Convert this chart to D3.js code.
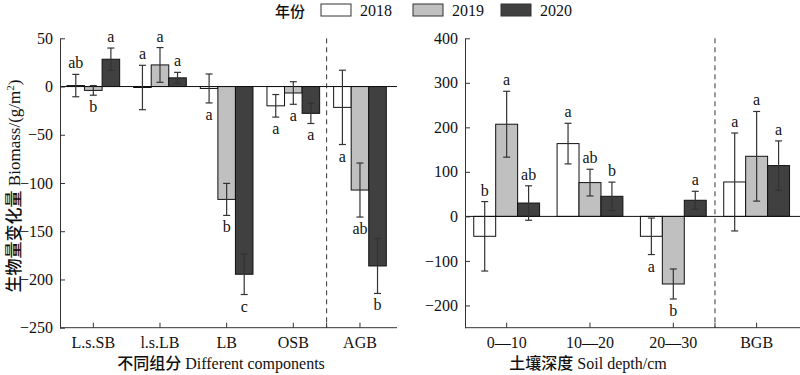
<!DOCTYPE html>
<html><head><meta charset="utf-8">
<script src="https://cdn.jsdelivr.net/npm/d3@7"></script>
<style>
body{margin:0;background:#fff;}
svg{display:block;}
</style></head>
<body><svg id="c" width="800" height="375"></svg>
<script>
// ---- data ----
const years = ["2018","2019","2020"];
const yearColors = ["#ffffff","#c0c0c0","#404040"];

const categoriesL = ["L.s.SB","l.s.LB","LB","OSB","AGB"];
const meanL2018 = [1, -1, -2, -20, -21.6];
const errL2018  = [11.6, 23, 15, 11.7, 38.5];
const meanL2019 = [-4, 22.4, -117, -6.7, -107.3];
const errL2019  = [5, 18, 16.6, 11.7, 28];
const meanL2020 = [28.3, 9, -194.6, -27.8, -186];
const errL2020  = [11.6, 5.7, 21, 10.5, 28.5];
const lettersL2018 = ["ab","a","a","a","a"];
const lettersL2019 = ["b","a","b","a","ab"];
const lettersL2020 = ["a","a","c","a","b"];
const sideL2018 = ["up","up","down","down","down"];
const sideL2019 = ["down","up","down","down","down"];
const sideL2020 = ["up","up","down","down","down"];
const ticksL = [50, 0, -50, -100, -150, -200, -250];

const categoriesR = ["0\u201410","10\u201420","20\u201430","BGB"];
const meanR2018 = [-44.7, 163.5, -44.7, 77.3];
const errR2018  = [78, 45.6, 41, 110];
const meanR2019 = [207, 75.9, -151.8, 135];
const errR2019  = [74, 30, 33.7, 100.7];
const meanR2020 = [30, 45.1, 36.2, 114.1];
const errR2020  = [38.7, 31.8, 20.2, 55.4];
const lettersR2018 = ["b","a","a","a"];
const lettersR2019 = ["a","ab","b","a"];
const lettersR2020 = ["ab","b","a","a"];
const sideR2018 = ["up","up","down","up"];
const sideR2019 = ["up","up","down","up"];
const sideR2020 = ["up","up","up","up"];
const ticksR = [400, 300, 200, 100, 0, -100, -200];

const SERIF = "'Liberation Serif', 'Noto Sans CJK SC', serif";
const CJK = "'Noto Sans CJK SC', sans-serif";
const svg = d3.select("#c").attr("font-family", SERIF);
const FS = 16;

function panel(opt){
  const g = svg.append("g");
  const x = d3.scaleBand().domain(opt.cats).range([opt.x0, opt.x1]).padding(0);
  const y = d3.scaleLinear().domain(opt.ydom).range([327.7, 38.3]);
  const bw = x.bandwidth();
  const xs = d3.scaleBand().domain(years).range([-bw*0.395, bw*0.395]).padding(0);
  const series = [
    {year:"2018", mean:opt.m[0], err:opt.e[0], let:opt.l[0], side:opt.s[0]},
    {year:"2019", mean:opt.m[1], err:opt.e[1], let:opt.l[1], side:opt.s[1]},
    {year:"2020", mean:opt.m[2], err:opt.e[2], let:opt.l[2], side:opt.s[2]}
  ];
  const recs = [];
  series.forEach((s,si)=>{
    opt.cats.forEach((c,i)=>{
      recs.push({cat:c, year:s.year, color:yearColors[si], v:s.mean[i], e:s.err[i], t:s.let[i], side:s.side[i]});
    });
  });
  g.selectAll("rect.bar").data(recs).join("rect")
    .attr("x", d=> x(d.cat)+bw/2+xs(d.year))
    .attr("width", xs.bandwidth())
    .attr("y", d=> y(Math.max(0,d.v)))
    .attr("height", d=> Math.abs(y(d.v)-y(0)))
    .attr("fill", d=>d.color).attr("stroke","#111").attr("stroke-width",1);
  g.append("line").attr("x1",opt.x0).attr("x2",opt.xEnd).attr("y1",y(0)).attr("y2",y(0))
    .attr("stroke","#111").attr("stroke-width",1);
  const cx = d=> x(d.cat)+bw/2+xs(d.year)+xs.bandwidth()/2;
  const eg = g.selectAll("g.err").data(recs).join("g").attr("stroke","#333").attr("stroke-width",1.2);
  eg.append("line").attr("x1",cx).attr("x2",cx).attr("y1",d=>y(d.v+d.e)).attr("y2",d=>y(d.v-d.e));
  eg.append("line").attr("x1",d=>cx(d)-3.5).attr("x2",d=>cx(d)+3.5).attr("y1",d=>y(d.v+d.e)).attr("y2",d=>y(d.v+d.e));
  eg.append("line").attr("x1",d=>cx(d)-3.5).attr("x2",d=>cx(d)+3.5).attr("y1",d=>y(d.v-d.e)).attr("y2",d=>y(d.v-d.e));
  g.selectAll("text.let").data(recs).join("text")
    .attr("x",cx).attr("text-anchor","middle").attr("font-size",FS).attr("fill","#111")
    .attr("font-family",SERIF)
    .attr("y", d=> d.side==="up" ? y(d.v+d.e)-6 : y(d.v-d.e)+17)
    .text(d=>d.t);
  const sepX = x(opt.cats[opt.cats.length-1]);
  g.append("line").attr("x1",sepX).attr("x2",sepX).attr("y1",38.3).attr("y2",327.7)
    .attr("stroke","#333").attr("stroke-width",1).attr("stroke-dasharray","5,4");
  const ya = d3.axisLeft(y).tickValues(opt.ticks).tickSizeInner(-5).tickSizeOuter(0).tickPadding(7);
  const yg = g.append("g").attr("transform",`translate(${opt.x0},0)`).call(ya)
    .attr("font-family",SERIF).attr("font-size",FS);
  yg.selectAll("text").attr("fill","#111");
  yg.selectAll("line,path").attr("stroke","#333");
  const xa = d3.axisBottom(x).tickSizeInner(-5).tickSizeOuter(0).tickPadding(9);
  const xg = g.append("g").attr("transform",`translate(0,327.7)`).call(xa)
    .attr("font-family",SERIF).attr("font-size",FS);
  xg.select("path.domain").remove();
  xg.append("line").attr("x1",opt.x0).attr("x2",opt.xEnd).attr("stroke","#333");
  xg.append("line").attr("x1",sepX).attr("x2",sepX).attr("y1",0).attr("y2",-5).attr("stroke","#333");
  xg.selectAll("text").attr("fill","#111");
  xg.selectAll(".tick line").attr("stroke","#333");
  const t = g.append("text").attr("x",opt.titleX).attr("y",369).attr("text-anchor","middle")
    .attr("font-size",FS).attr("fill","#111").attr("font-family",SERIF);
  t.append("tspan").attr("font-family",CJK).attr("font-weight",500).text(opt.titleCN);
  t.append("tspan").attr("font-family",SERIF).text(" "+opt.titleEN);
}

panel({cats:categoriesL, x0:60, x1:393.3, xEnd:397, ydom:[-250,50], ticks:ticksL,
  m:[meanL2018,meanL2019,meanL2020], e:[errL2018,errL2019,errL2020],
  l:[lettersL2018,lettersL2019,lettersL2020], s:[sideL2018,sideL2019,sideL2020],
  titleX:221, titleCN:"不同组分", titleEN:"Different components"});
panel({cats:categoriesR, x0:465, x1:798.3, xEnd:800, ydom:[-250,400], ticks:ticksR,
  m:[meanR2018,meanR2019,meanR2020], e:[errR2018,errR2019,errR2020],
  l:[lettersR2018,lettersR2019,lettersR2020], s:[sideR2018,sideR2019,sideR2020],
  titleX:588, titleCN:"土壤深度", titleEN:"Soil depth/cm"});

// y title
const yt = svg.append("text").attr("transform","translate(20,186) rotate(-90)")
  .attr("text-anchor","middle").attr("font-size",17).attr("fill","#111").attr("font-family",SERIF);
yt.append("tspan").attr("font-family",CJK).attr("font-weight",500).attr("font-size",17).text("生物量变化量");
yt.append("tspan").attr("font-family",SERIF).text(" Biomass/(g/m");
yt.append("tspan").attr("font-family",SERIF).attr("font-size",11).attr("dy",-6).text("2");
yt.append("tspan").attr("font-family",SERIF).attr("dy",6).text(")");

// legend
const lg = svg.append("g");
lg.append("text").attr("x",275).attr("y",17).attr("font-size",15).attr("font-family",CJK)
  .attr("font-weight",500).attr("fill","#111").text("年份");
const legX = [321, 413, 501];
years.forEach((yr,i)=>{
  lg.append("rect").attr("x",legX[i]).attr("y",4).attr("width",30).attr("height",12)
    .attr("fill",yearColors[i]).attr("stroke","#333");
  lg.append("text").attr("x",legX[i]+39).attr("y",16).attr("font-size",FS).attr("font-family",SERIF)
    .attr("fill","#111").text(yr);
});
</script></body></html>
